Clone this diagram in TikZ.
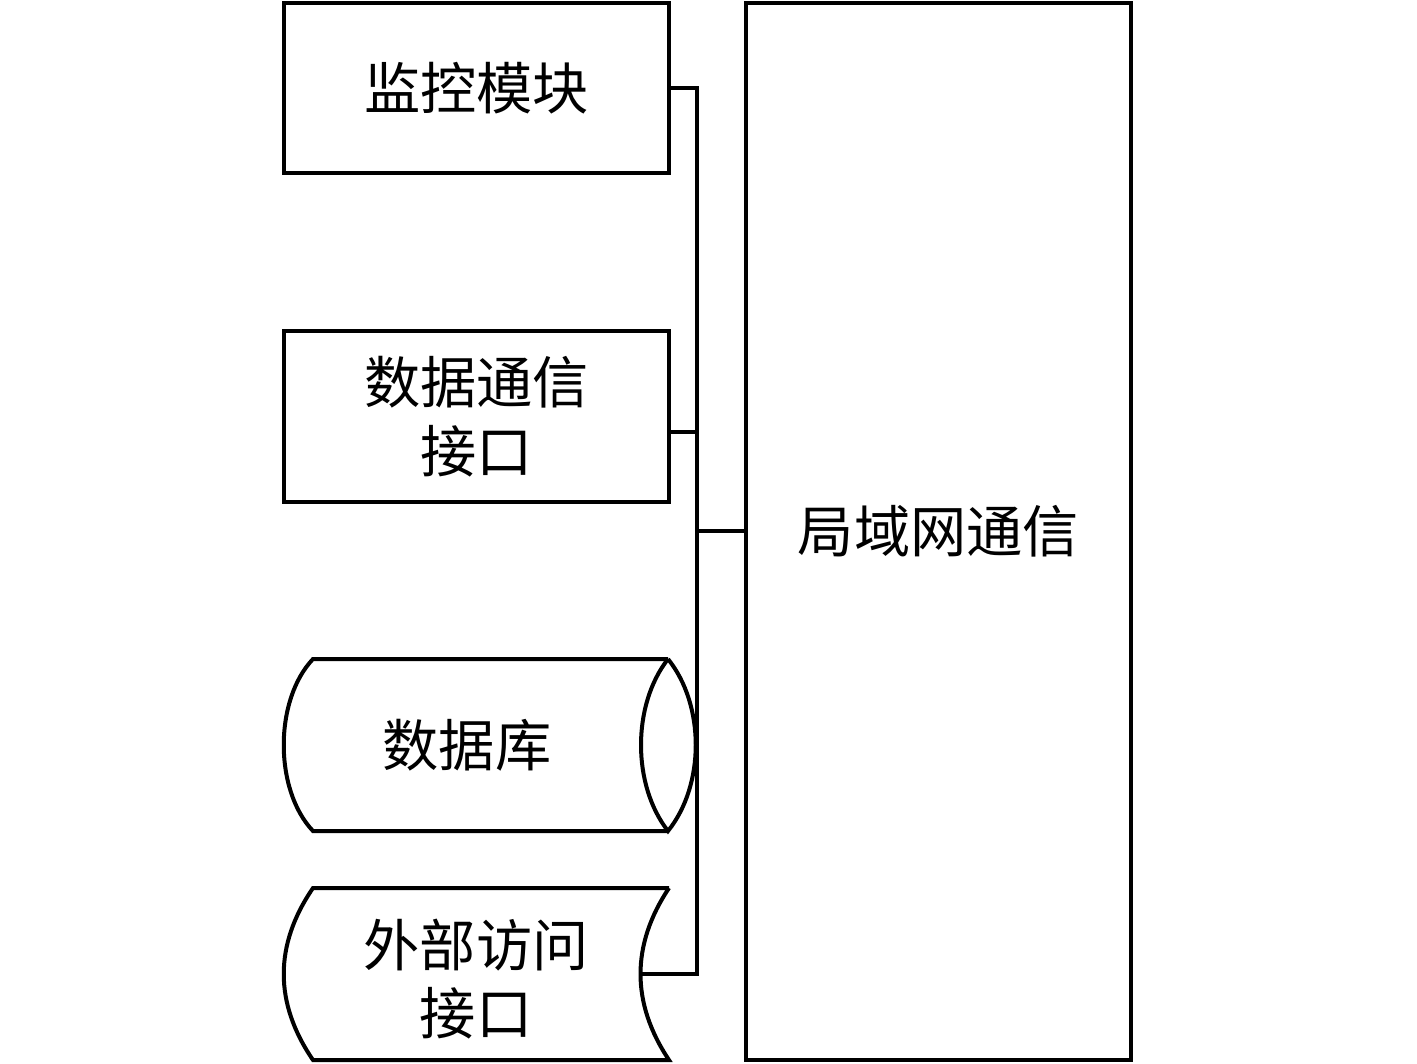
\documentclass[tikz,border=0pt]{standalone}
\usepackage{fontspec}
\newfontfamily\cjk{Noto Sans CJK SC}
\usetikzlibrary{positioning, calc}

\begin{document}
\begin{tikzpicture}[x=0.02cm, y=-0.02cm, line width=0.08cm,
    box/.style={draw, rectangle, minimum width=7.7cm, minimum height=3.42cm, align=center, font=\cjk\fontsize{32}{39}\selectfont},
    label/.style={align=center, font=\cjk\fontsize{32}{39}\selectfont}]
    \useasboundingbox (0, 0) rectangle (1417, 1063);

    % left column
    \node[box] (monitor) at (476.5, 88) {监控模块};
    \node[box] (dataif) at (476.5, 416.5) {数据通信\\接口};

    % database
    \draw (668, 659) -- (313, 659) .. controls (274, 700) and (274, 790) .. (313, 831) -- (668, 831);
    \draw (668, 659) .. controls (632, 705) and (632, 785) .. (668, 831)
        .. controls (705, 785) and (705, 705) .. (668, 659);
    \node[label] (database) at (467, 745) {数据库};

    % external access interface
    \draw (669, 888) -- (313, 888) .. controls (274, 945) and (274, 1003) .. (313, 1060)
        -- (669, 1060) .. controls (631, 1003) and (631, 945) .. (669, 888);
    \coordinate (exteast) at (640.5, 974);
    \node[label] (extif) at (476, 979) {外部访问\\接口};

    % LAN
    \node[box, minimum height=21.14cm] (lan) at (938.5, 531.5) {局域网通信};

    % bus
    \coordinate (bustop) at (697, 88);
    \coordinate (busbot) at (697, 974);
    \coordinate (buslan) at (697, 531);
    \coordinate (dataport) at ($(dataif.east)+(0, 15)$);
    \draw (monitor.east) -- (bustop) -- (busbot) -- (exteast);
    \draw (dataport) -- (dataport -| bustop);
    \draw (buslan) -- (buslan -| lan.west);
\end{tikzpicture}
\end{document}
